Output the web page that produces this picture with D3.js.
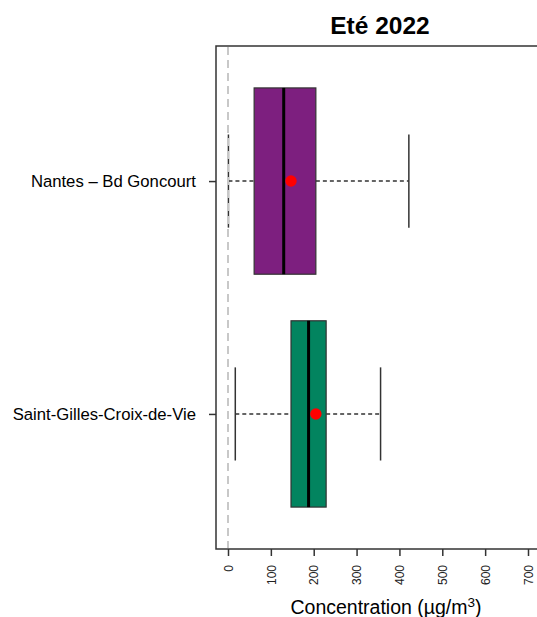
<!DOCTYPE html>
<html>
<head>
<meta charset="utf-8">
<script src="https://cdn.jsdelivr.net/npm/d3@7"></script>
<style>
html,body{margin:0;padding:0;background:#fff;}
svg{display:block;font-family:"Liberation Sans",Arial,sans-serif;}
</style>
</head>
<body>
<svg id="chart" width="537" height="617"></svg>
<script>
const categories = ["Nantes – Bd Goncourt", "Saint-Gilles-Croix-de-Vie"];
const whiskerLow = [1, 17];
const q1 = [61, 147];
const median = [130, 188];
const q3 = [205, 229];
const whiskerHigh = [422, 356];
const mean = [147, 205];
const colors = ["#7d1f7f", "#02845f"];
const xTicks = [0, 100, 200, 300, 400, 500, 600, 700];

const svg = d3.select("#chart");
const x = d3.scaleLinear().domain([-28, 728]).range([216, 540]);
const y = d3.scaleLinear().domain([-0.58, 1.58]).range([46, 549]);
const boxHalf = 0.4, capHalf = 0.2;

// title
svg.append("text").attr("x", 380).attr("y", 34).attr("text-anchor", "middle")
  .attr("font-size", 24.5).attr("font-weight", "bold").attr("fill", "#000").text("Eté 2022");

const g = svg.selectAll("g.box").data(categories).enter().append("g").attr("class", "box");

// whiskers
g.append("line").attr("x1", (d,i) => x(whiskerLow[i])).attr("x2", (d,i) => x(q1[i]))
  .attr("y1", (d,i) => y(i)).attr("y2", (d,i) => y(i))
  .attr("stroke", "#333").attr("stroke-width", 1.5).attr("stroke-dasharray", "4,3");
g.append("line").attr("x1", (d,i) => x(q3[i])).attr("x2", (d,i) => x(whiskerHigh[i]))
  .attr("y1", (d,i) => y(i)).attr("y2", (d,i) => y(i))
  .attr("stroke", "#333").attr("stroke-width", 1.5).attr("stroke-dasharray", "4,3");
// caps
[whiskerLow, whiskerHigh].forEach(arr => {
  g.append("line").attr("x1", (d,i) => x(arr[i])).attr("x2", (d,i) => x(arr[i]))
    .attr("y1", (d,i) => y(i - capHalf)).attr("y2", (d,i) => y(i + capHalf))
    .attr("stroke", "#333").attr("stroke-width", 1.5);
});
// boxes
g.append("rect").attr("x", (d,i) => x(q1[i])).attr("width", (d,i) => x(q3[i]) - x(q1[i]))
  .attr("y", (d,i) => y(i - boxHalf)).attr("height", (d,i) => y(i + boxHalf) - y(i - boxHalf))
  .attr("fill", (d,i) => colors[i]).attr("stroke", "#333").attr("stroke-width", 1.2);
// medians
g.append("line").attr("x1", (d,i) => x(median[i])).attr("x2", (d,i) => x(median[i]))
  .attr("y1", (d,i) => y(i - boxHalf)).attr("y2", (d,i) => y(i + boxHalf))
  .attr("stroke", "#000").attr("stroke-width", 3);
// means
g.append("circle").attr("cx", (d,i) => x(mean[i])).attr("cy", (d,i) => y(i)).attr("r", 5.7)
  .attr("fill", "#ff0000");

// zero reference line (drawn over the plot)
svg.append("line").attr("x1", x(0)).attr("x2", x(0)).attr("y1", 47).attr("y2", 548)
  .attr("stroke", "#c8c8c8").attr("stroke-width", 2).attr("stroke-dasharray", "8,5");

// frame
svg.append("rect").attr("x", 216).attr("y", 46).attr("width", 324).attr("height", 503)
  .attr("fill", "none").attr("stroke", "#333").attr("stroke-width", 1.5);

// x axis
const xAxis = svg.append("g").attr("transform", "translate(0,549)")
  .call(d3.axisBottom(x).tickValues(xTicks).tickSize(7).tickFormat(d3.format("d")));
xAxis.select(".domain").remove();
xAxis.selectAll(".tick line").attr("stroke", "#333").attr("stroke-width", 1.5);
xAxis.selectAll(".tick text").attr("transform", "rotate(-90)")
  .attr("x", -16).attr("y", 0).attr("dy", "0.35em").attr("text-anchor", "end")
  .attr("font-size", 12).attr("fill", "#222").attr("font-family", "Liberation Sans, Arial, sans-serif");

// y axis
const yAxis = svg.append("g").attr("transform", "translate(216,0)")
  .call(d3.axisLeft(y).tickValues([0, 1]).tickSize(7).tickPadding(13).tickFormat(i => categories[i]));
yAxis.select(".domain").remove();
yAxis.selectAll(".tick line").attr("stroke", "#333").attr("stroke-width", 1.5);
yAxis.selectAll(".tick text").attr("font-size", 16.7).attr("fill", "#000")
  .attr("font-family", "Liberation Sans, Arial, sans-serif");

// x label
const xl = svg.append("text").attr("x", 386).attr("y", 614).attr("text-anchor", "middle")
  .attr("font-size", 19.5).attr("fill", "#000");
xl.append("tspan").text("Concentration (µg/m");
xl.append("tspan").attr("font-size", 13.5).attr("dy", -7.5).text("3");
xl.append("tspan").attr("dy", 7.5).text(")");
</script>
</body>
</html>
